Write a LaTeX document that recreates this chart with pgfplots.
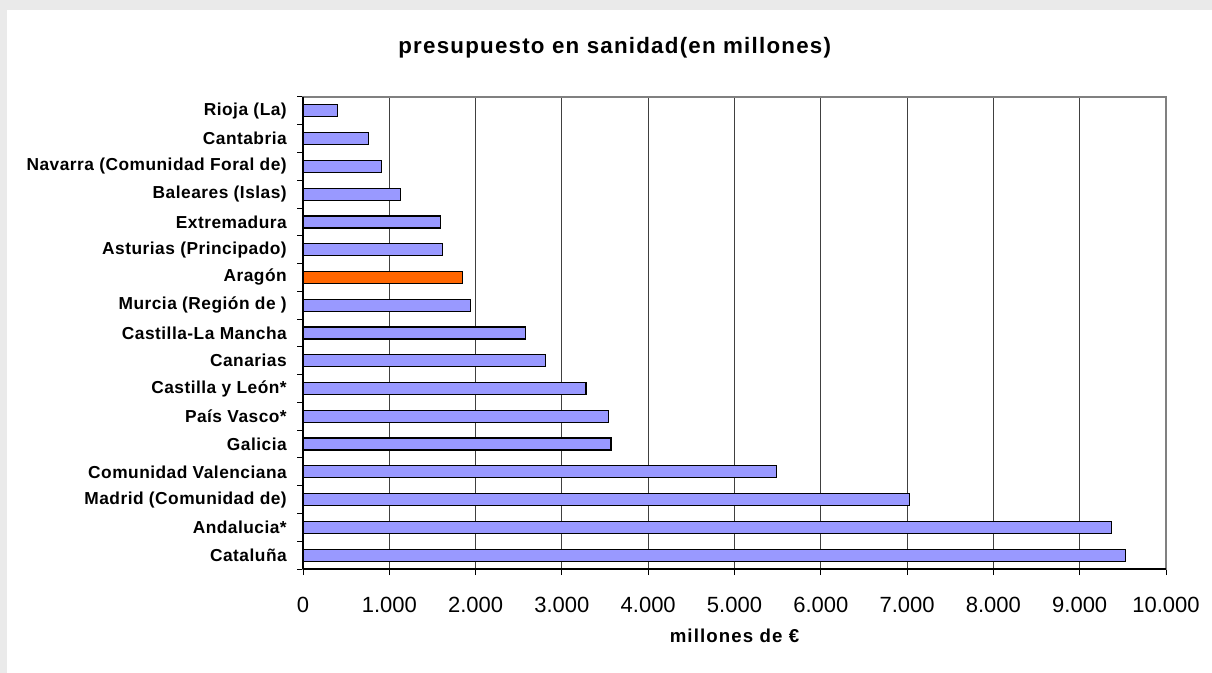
\documentclass[border=0pt]{standalone}
\usepackage{pgfplots}
\pgfplotsset{compat=1.18}
\usepackage{fontspec}
\setmainfont{Liberation Sans}
\newfontfamily\labfont[LetterSpace=2.8]{Liberation Sans}
\newfontfamily\titfont[LetterSpace=5.5]{Liberation Sans}
\newfontfamily\xlabfont[LetterSpace=6]{Liberation Sans}
\definecolor{bgray}{RGB}{234,234,234}
\definecolor{barblue}{RGB}{153,153,255}
\definecolor{barorange}{RGB}{255,102,0}
\begin{document}
\begin{tikzpicture}
\fill[bgray] (0pt,0pt) rectangle (909pt,-504.75pt);
\fill[white] (5.25pt,-7.5pt) rectangle (909pt,-504.75pt);
\node[anchor=base] at (461pt,-40pt) {\titfont\fontsize{16.75pt}{19pt}\selectfont\bfseries presupuesto en sanidad(en millones)};
\begin{axis}[
  at={(227.25pt,-426.75pt)}, anchor=south west,
  scale only axis, width=647.25pt, height=354pt,
  xmin=0, xmax=10000, ymin=-0.5, ymax=16.5,
  scaled x ticks=false,
  xbar, bar width=9pt, bar shift=0pt,
  axis line style={draw=gray, line width=0.9pt},
  xtick={0,1000,...,10000},
  xticklabels={0,1.000,2.000,3.000,4.000,5.000,6.000,7.000,8.000,9.000,10.000},
  xticklabel style={font=\fontsize{16.5pt}{18pt}\selectfont, anchor=base, yshift=-28pt},
  ytick={-0.5,0.5,...,16.5}, yticklabels={},
  extra y ticks={0,1,...,16},
  extra y tick labels={Cataluña,Andalucia*,Madrid (Comunidad de),Comunidad Valenciana,Galicia,País Vasco*,Castilla y León*,Canarias,Castilla-La Mancha,Murcia (Región de ),Aragón,Asturias (Principado),Extremadura,Baleares (Islas),Navarra (Comunidad Foral de),Cantabria,Rioja (La)},
  extra y tick style={major tick length=0pt, grid=none, yticklabel style={font=\labfont\fontsize{13pt}{15pt}\selectfont\bfseries, anchor=east, inner sep=0pt, xshift=-12pt}},
  tick align=outside, xtick pos=bottom, ytick pos=left,
  major tick length=4.5pt,
  tick style={black, line width=0.75pt},
  xmajorgrids, major grid style={black!75, line width=0.75pt},
  xlabel={\xlabfont\fontsize{14pt}{16pt}\selectfont\bfseries millones de €},
  xlabel style={at={(axis description cs:0.5,0)}, anchor=base, yshift=-54.75pt},
  clip=false,
]
\addplot[fill=barblue, draw=black, line width=0.9pt] coordinates {
  (9532,0) (9366,1) (7032,2) (5490,3) (3569,4) (3538,5) (3279,6) (2808,7)
  (2576,8) (1939,9) (1614,11) (1596,12) (1127,13) (907,14) (761,15) (402,16)
};
\addplot[fill=barorange, draw=black, line width=0.9pt] coordinates {
  (1846,10)
};
\draw[black, line width=0.9pt] (axis cs:0,-0.5) -- (axis cs:0,16.5);
\draw[black, line width=0.9pt] (axis cs:0,-0.5) -- (axis cs:10000,-0.5);
\end{axis}
\end{tikzpicture}
\end{document}
